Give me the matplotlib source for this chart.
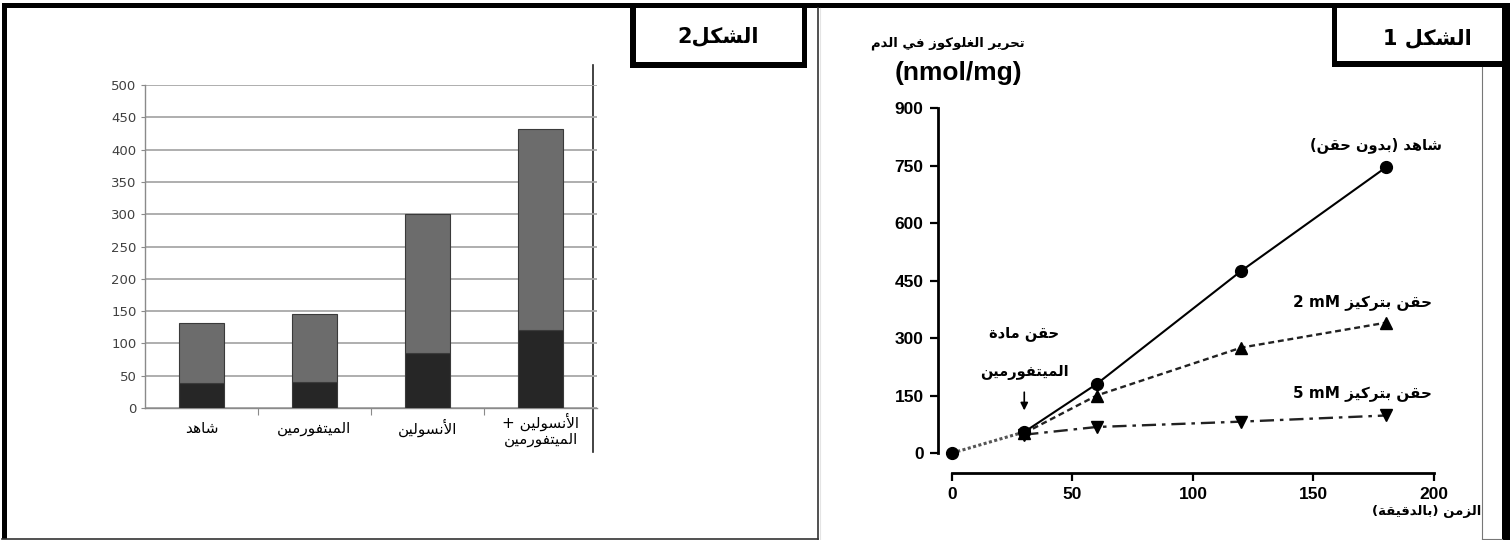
import re
import matplotlib
matplotlib.use('Agg')
import matplotlib.pyplot as plt
from matplotlib.patches import Rectangle
from matplotlib.lines import Line2D

# ---------------- data ----------------
groups = ['شاهد', 'الميتفورمين', 'الأنسولين', 'الأنسولين +\nالميتفورمين']
basal = [38, 41, 85, 121]
added = [94, 105, 215, 311]

time = [0, 30, 60, 120, 180]
control = [0, 55, 180, 475, 745]
dose_2mm = [0, 52, 150, 275, 340]
dose_5mm = [0, 48, 68, 82, 98]

yticks_bar = list(range(0, 501, 50))
yticks_line = [0, 150, 300, 450, 600, 750, 900]
xticks_line = [0, 50, 100, 150, 200]

# ---------------- arabic shaping ----------------
DUAL = {'ب': 0xFE8F, 'ت': 0xFE95, 'ح': 0xFEA1, 'س': 0xFEB1, 'ش': 0xFEB5,
        'غ': 0xFECD, 'ف': 0xFED1, 'ق': 0xFED5, 'ك': 0xFED9, 'ل': 0xFEDD,
        'م': 0xFEE1, 'ن': 0xFEE5, 'ه': 0xFEE9, 'ي': 0xFEF1}
RIGHT = {'ا': 0xFE8D, 'أ': 0xFE83, 'ة': 0xFE93, 'د': 0xFEA9, 'ر': 0xFEAD,
         'ز': 0xFEAF, 'و': 0xFEED}
LAM_ALEF = {'ا': 0xFEFB, 'أ': 0xFEF7}


def shape(text):
    out = []
    i, n = 0, len(text)
    while i < n:
        c = text[i]
        prev = text[i - 1] if i > 0 else ''
        link_prev = prev in DUAL and (c in DUAL or c in RIGHT)
        if c == 'ل' and i + 1 < n and text[i + 1] in LAM_ALEF:
            base = LAM_ALEF[text[i + 1]]
            out.append(chr(base + 1 if link_prev else base))
            i += 2
            continue
        nxt = text[i + 1] if i + 1 < n else ''
        if c in DUAL:
            base = DUAL[c]
            link_next = nxt in DUAL or nxt in RIGHT
        elif c in RIGHT:
            base = RIGHT[c]
            link_next = False
        else:
            out.append(c)
            i += 1
            continue
        if link_prev and link_next:
            code = base + 3
        elif link_prev:
            code = base + 1
        elif link_next:
            code = base + 2
        else:
            code = base
        out.append(chr(code))
        i += 1
    return ''.join(out)


def ar(text):
    lines = []
    for line in text.split('\n'):
        vis = shape(line)[::-1].translate(str.maketrans('()', ')('))
        vis = re.sub(r'[A-Za-z0-9]+(?:[ /.]+[A-Za-z0-9]+)*',
                     lambda m: m.group(0)[::-1], vis)
        lines.append(vis)
    return '\n'.join(lines)


AR = ['DejaVu Sans']
W, H = 1512, 540


def rect(x0, y0, x1, y1):
    return [x0 / W, 1 - y1 / H, (x1 - x0) / W, (y1 - y0) / H]


fig = plt.figure(figsize=(15.12, 5.4), dpi=100)

# ---------------- figure 2: stacked bars ----------------
ax = fig.add_axes(rect(145, 85, 597, 408))
ax.patch.set_alpha(0)
x = range(len(groups))
ax.bar(x, basal, width=0.4, color='#262626', edgecolor='#3a3a3a', lw=0.8, zorder=3)
ax.bar(x, added, width=0.4, bottom=basal, color='#6c6c6c', edgecolor='#3a3a3a',
       lw=0.8, zorder=3)
ax.set_xlim(-0.5, 3.5)
ax.set_ylim(0, 500)
ax.set_yticks(yticks_bar)
ax.yaxis.grid(True, color='#a8a8a8', lw=1.3)
ax.set_axisbelow(True)
for s in ['top', 'right']:
    ax.spines[s].set_visible(False)
for s in ['left', 'bottom']:
    ax.spines[s].set_color('#8a8a8a')
    ax.spines[s].set_linewidth(1.0)
ax.tick_params(axis='y', length=3, color='#8a8a8a', labelsize=9.5,
               labelcolor='#404040', pad=3)
for lab in ax.get_yticklabels():
    lab.set_family(['Liberation Sans Narrow', 'DejaVu Sans'])
ax.set_xticks([0.5, 1.5, 2.5])
ax.set_xticklabels([])
ax.tick_params(axis='x', length=5, color='#8a8a8a')
label_y = [-0.062, -0.062, -0.062, -0.068]
for i, g in enumerate(groups):
    ax.text(i, label_y[i], ar(g), transform=ax.get_xaxis_transform(),
            ha='center', va='center', fontsize=11, family=AR,
            linespacing=1.05, color='black')

# ---------------- figure 1: glucose release curves ----------------
ax2 = fig.add_axes(rect(937.5, 104.2, 1438.8, 473))
ax2.patch.set_alpha(0)
ax2.set_xlim(-6, 202)
ax2.set_ylim(-52, 910)
ax2.plot(time[:2], control[:2], color='#555555', lw=2.2, dashes=(1, 0.8), zorder=2)
ax2.plot(time[1:], control[1:], color='black', lw=1.5, marker='o', ms=8.5, zorder=4)
ax2.plot(time[1:], dose_2mm[1:], color='#222222', lw=1.7, dashes=(2.5, 1.6),
         marker='^', ms=8, mfc='black', mec='black', zorder=3)
ax2.plot(time[1:], dose_5mm[1:], color='#222222', lw=1.7,
         dashes=(6, 2.5, 1.5, 2.5), marker='v', ms=8, mfc='black', mec='black',
         zorder=3)
ax2.plot(time[0], control[0], 'o', color='black', ms=8.5, zorder=4)

for s in ['top', 'right']:
    ax2.spines[s].set_visible(False)
ax2.spines['left'].set_bounds(0, 900)
ax2.spines['bottom'].set_bounds(0, 200)
for s in ['left', 'bottom']:
    ax2.spines[s].set_linewidth(2)
ax2.set_yticks(yticks_line)
ax2.set_xticks(xticks_line)
ax2.tick_params(length=6, width=1.6, labelsize=12.5, pad=4)
for lab in ax2.get_xticklabels() + ax2.get_yticklabels():
    lab.set_family(['Liberation Sans', 'DejaVu Sans'])
    lab.set_fontweight('bold')

ax2.text(30, 313, ar('حقن مادة'), ha='center', va='center', fontsize=10.5,
         family=AR, fontweight='bold')
ax2.text(30, 211, ar('الميتفورمين'), ha='center', va='center', fontsize=10.5,
         family=AR, fontweight='bold')
ax2.annotate('', xy=(30, 104), xytext=(30, 166),
             arrowprops=dict(arrowstyle='-|>', lw=1.2, color='black',
                             mutation_scale=11))
ax2.text(176, 803, ar('شاهد (بدون حقن)'), ha='center', va='center',
         fontsize=10.5, family=AR, fontweight='bold')
ax2.text(170.5, 394, ar('حقن بتركيز 2 mM'), ha='center', va='center',
         fontsize=11, family=AR, fontweight='bold')
ax2.text(170.5, 157, ar('حقن بتركيز 5 mM'), ha='center', va='center',
         fontsize=11, family=AR, fontweight='bold')

fig.text(948 / W, 1 - 43 / H, ar('تحرير الغلوكوز في الدم'), ha='center',
         va='center', fontsize=9.5, family=AR, fontweight='bold')
fig.text(958 / W, 1 - 73 / H, '(nmol/mg)', ha='center', va='center',
         fontsize=19, family=['Liberation Sans', 'DejaVu Sans'], fontweight='bold')
fig.text(1427 / W, 1 - 512 / H, ar('الزمن (بالدقيقة)'), ha='center',
         va='center', fontsize=9.5, family=AR, fontweight='bold')

# ---------------- frames and title boxes ----------------
ov = fig.add_axes([0, 0, 1, 1], zorder=-1)
ov.set_xlim(0, W)
ov.set_ylim(H, 0)
ov.axis('off')


def block(x0, y0, x1, y1, color='black'):
    ov.add_patch(Rectangle((x0, y0), x1 - x0, y1 - y0, color=color, lw=0))


block(2, 3, 1510, 8)
block(2, 3, 7, 539)
block(1502, 3, 1510, 540)
ov.add_line(Line2D([2, 818], [538.5, 538.5], color='#333333', lw=1.2))
ov.add_line(Line2D([817.5, 817.5], [8, 539], color='#333333', lw=1.2))
ov.add_line(Line2D([820, 820], [8, 540], color='#e4e4e4', lw=0.8))
ov.add_line(Line2D([1482, 1482], [67, 539], color='#777777', lw=0.8))
ov.add_line(Line2D([1482, 1502], [539, 539], color='#777777', lw=0.8))
ov.add_line(Line2D([593, 593], [65, 452], color='#222222', lw=1.2))

# title boxes
block(630, 3, 807, 68)
block(636, 8, 802, 62, color='white')
block(1332, 3, 1510, 67)
block(1337, 8, 1502, 61, color='white')
ov.text(718, 36, ar('الشكل2'), ha='center', va='center', fontsize=15,
        family=AR, fontweight='bold')
ov.text(1427, 38, ar('الشكل 1'), ha='center', va='center', fontsize=15,
        family=AR, fontweight='bold')

fig.savefig('out.png', dpi=100)
